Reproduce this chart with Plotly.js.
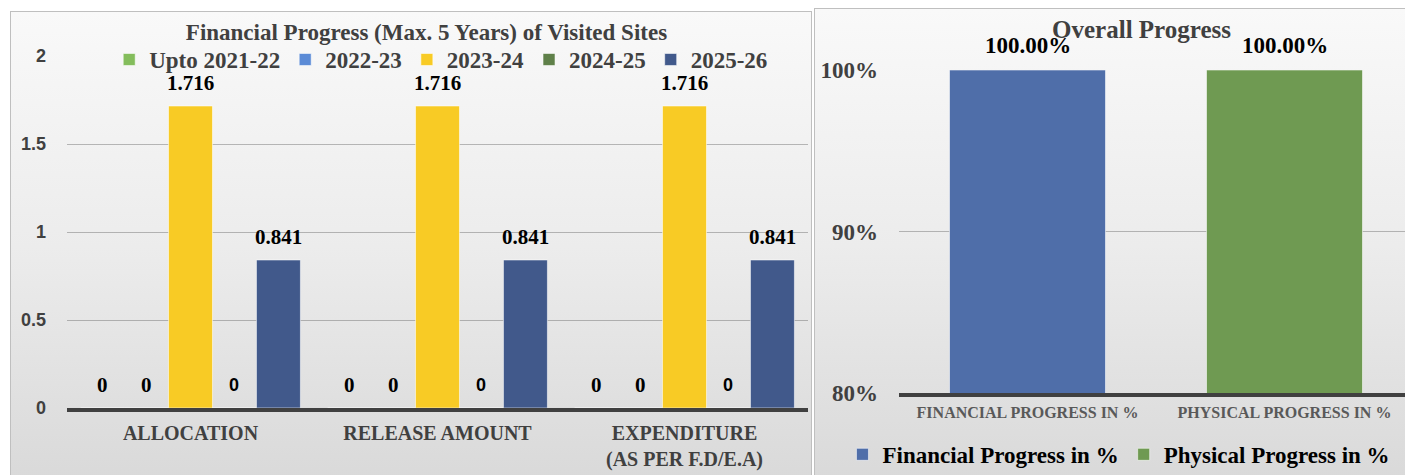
<!DOCTYPE html>
<html>
<head>
<meta charset="utf-8">
<script src="https://cdn.plot.ly/plotly-3.0.1.min.js"></script>
<style>
  html, body { margin: 0; padding: 0; background: #ffffff; width: 1405px; height: 475px; overflow: hidden; }
  .panel { position: absolute; box-sizing: border-box; border: 1.5px solid #bfbfbf; overflow: hidden;
           background: linear-gradient(to bottom, #f9f9f9 0%, #ececec 50%, #d9d9d9 100%); }
  #left { left: 10px; top: 11px; width: 802px; height: 472px; }
  #right { left: 814px; top: 8px; width: 656px; height: 475px; }
</style>
</head>
<body>
<div id="left" class="panel"></div>
<div id="right" class="panel"></div>
<script>
// ---------- Left chart data ----------
const categories = ['ALLOCATION', 'RELEASE AMOUNT', 'EXPENDITURE<br>(AS PER F.D/E.A)'];
const seriesNames = ['Upto 2021-22', '2022-23', '2023-24', '2024-25', '2025-26'];
const upto2021_22 = [0, 0, 0];
const fy2022_23 = [0, 0, 0];
const fy2023_24 = [1.716, 1.716, 1.716];
const fy2024_25 = [0, 0, 0];
const fy2025_26 = [0.841, 0.841, 0.841];
const leftTickVals = [0, 0.5, 1, 1.5, 2];
const leftTickText = ['0', '0.5', '1', '1.5', '2'];

// ---------- Right chart data ----------
const progressCategories = ['FINANCIAL PROGRESS IN %', 'PHYSICAL PROGRESS IN %'];
const progressNames = ['Financial Progress in %', 'Physical Progress in %'];
const financialProgress = [100];
const physicalProgress = [100];
const rightTickVals = [80, 90, 100];
const rightTickText = ['80%', '90%', '100%'];

// ---------- styles ----------
const SERIF = 'Liberation Serif, Times New Roman, serif';
const SANS = 'Liberation Sans, Arial, sans-serif';
const leftColors = ['#84bd5c', '#5b8bd6', '#f8cb25', '#5f8049', '#41598b'];
const rightColors = ['#4f6ea9', '#6f9a52'];
const gridCol = 'rgba(90,90,90,0.40)';

// ---------- Left chart ----------
const leftSeries = [upto2021_22, fy2022_23, fy2023_24, fy2024_25, fy2025_26];
const bargapL = 0.11;
const barW = (1 - bargapL) / leftSeries.length;
const leftTraces = leftSeries.map((vals, i) => ({
  type: 'bar', name: seriesNames[i], x: categories, y: vals,
  marker: { color: leftColors[i], line: { color: 'rgba(255,255,255,0.55)', width: 1 } },
  hoverinfo: 'skip'
}));
const leftAnn = [];
leftSeries.forEach((vals, i) => {
  vals.forEach((v, j) => {
    leftAnn.push({
      xref: 'x', yref: 'y', x: j + (i - (leftSeries.length - 1) / 2) * barW, y: v,
      text: String(v), showarrow: false, yanchor: 'middle', yshift: 23,
      font: { family: i === 3 ? SANS : SERIF, size: i === 3 ? 18 : 21, color: '#000000', weight: 700 }
    });
  });
});
Plotly.newPlot('left', leftTraces, {
  width: 799, height: 469,
  paper_bgcolor: 'rgba(0,0,0,0)', plot_bgcolor: 'rgba(0,0,0,0)',
  margin: { l: 56, r: 2, t: 44, b: 73 },
  barmode: 'group', bargap: bargapL, bargroupgap: 0,
  showlegend: true,
  title: { text: 'Financial Progress (Max. 5 Years) of Visited Sites',
           x: 0.52, xref: 'container', xanchor: 'center', y: 0.957, yref: 'container', yanchor: 'middle',
           font: { family: SERIF, size: 23, color: '#404040', weight: 700 } },
  legend: { orientation: 'h', x: 0.505, xanchor: 'center', y: 0.99, yanchor: 'middle',
            bgcolor: 'rgba(0,0,0,0)', itemwidth: 30, traceorder: 'normal',
            font: { family: SERIF, size: 23, color: '#404040', weight: 700 } },
  xaxis: { type: 'category', showgrid: false, showline: true, linecolor: '#404040', linewidth: 4,
           ticks: '', ticklabelstandoff: 4, zeroline: false,
           tickfont: { family: SERIF, size: 20, color: '#404040', weight: 700 } },
  yaxis: { range: [0, 2], tickvals: leftTickVals, ticktext: leftTickText, showgrid: true,
           gridcolor: gridCol, gridwidth: 1, zeroline: false, showline: false, ticks: '',
           ticklabelstandoff: 20,
           tickfont: { family: SANS, size: 18, color: '#404040', weight: 700 } },
  annotations: leftAnn
}, { staticPlot: true, displayModeBar: false });

// ---------- Right chart ----------
const rightSeries = [financialProgress, physicalProgress];
const rightTraces = rightSeries.map((vals, i) => ({
  type: 'bar', name: progressNames[i], x: [progressCategories[i]], y: vals,
  marker: { color: rightColors[i], line: { color: 'rgba(255,255,255,0.55)', width: 1 } },
  hoverinfo: 'skip'
}));
const rightAnn = rightSeries.map((vals, i) => ({
  xref: 'x', yref: 'y', x: progressCategories[i], y: vals[0],
  text: vals[0].toFixed(2) + '%', showarrow: false, yanchor: 'middle', yshift: 25,
  font: { family: SERIF, size: 23, color: '#000000', weight: 700 }
}));
Plotly.newPlot('right', rightTraces, {
  width: 653, height: 520,
  paper_bgcolor: 'rgba(0,0,0,0)', plot_bgcolor: 'rgba(0,0,0,0)',
  margin: { l: 84, r: 55, t: 61, b: 136 },
  barmode: 'overlay', bargap: 0.393,
  showlegend: true,
  title: { text: 'Overall Progress', x: 0.5, xref: 'container', xanchor: 'center',
           y: 1 - 20 / 520, yref: 'container', yanchor: 'middle',
           font: { family: SERIF, size: 25, color: '#404040', weight: 700 } },
  legend: { orientation: 'h', x: -0.11, xanchor: 'left', y: -0.19, yanchor: 'middle',
            bgcolor: 'rgba(0,0,0,0)', itemwidth: 30,
            font: { family: SERIF, size: 23, color: '#000000', weight: 700 } },
  xaxis: { type: 'category', categoryorder: 'array', categoryarray: progressCategories,
           showgrid: false, showline: true, linecolor: '#404040', linewidth: 4, ticks: '',
           ticklabelstandoff: 2, zeroline: false,
           tickfont: { family: SERIF, size: 16, color: '#595959', weight: 700 } },
  yaxis: { range: [80, 100], tickvals: rightTickVals, ticktext: rightTickText, showgrid: true,
           gridcolor: gridCol, gridwidth: 1, zeroline: false, showline: false, ticks: '',
           ticklabelstandoff: 20,
           tickfont: { family: SERIF, size: 23, color: '#404040', weight: 700 } },
  annotations: rightAnn
}, { staticPlot: true, displayModeBar: false });
</script>
</body>
</html>
